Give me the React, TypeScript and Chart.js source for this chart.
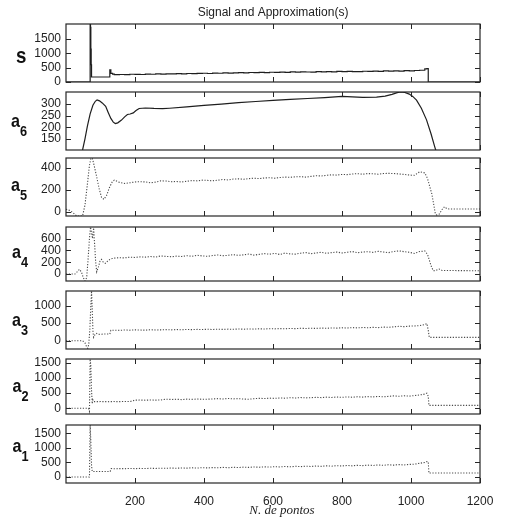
import React, { useEffect, useRef } from 'react';
import { Chart, registerables } from 'chart.js';

Chart.register(...registerables);

const TITLE = 'Signal and Approximation(s)';
const X_LABEL = 'N. de pontos';
const X_TICKS = [200, 400, 600, 800, 1000, 1200];

// shared x positions of the long plateau
const MID_X = [
  140, 155, 170, 185, 200, 215, 230, 245, 260, 275,
  290, 305, 320, 335, 350, 365, 380, 395, 410, 425,
  440, 455, 470, 485, 500, 515, 530, 545, 560, 575,
  590, 605, 620, 635, 650, 665, 680, 695, 710, 725,
  740, 755, 770, 785, 800, 815, 830, 845, 860, 875,
  890, 905, 920, 935, 950, 965, 980, 995, 1010, 1025,
  1040,
];

// ---- s (signal) ----
const S_HEAD: number[][] = [[0, 0], [69, 0], [70, 2020], [71, 1900], [72, 1150], [73, 600], [74, 175], [126, 175], [127, 420], [130, 300], [135, 275]];
const S_MID = [
  255, 262, 258, 270, 266, 262, 275, 270, 280, 274,
  285, 280, 292, 286, 296, 290, 300, 305, 296, 310,
  304, 315, 308, 320, 326, 318, 330, 324, 335, 328,
  340, 334, 345, 338, 350, 342, 355, 348, 345, 358,
  352, 362, 355, 368, 360, 372, 364, 358, 375, 368,
  380, 372, 385, 376, 390, 382, 395, 388, 400, 410,
  455,
];
const S_TAIL: number[][] = [[1046, 470], [1049, 470], [1050, 0], [1200, 0]];

// ---- a6 ----
const A6_HEAD: number[][] = [
  [40, 60], [48, 102], [55, 150], [62, 205], [70, 258], [78, 295], [85, 312], [90, 318], [97, 314], [105, 305],
  [115, 290], [122, 265], [130, 238], [137, 222], [143, 216], [150, 219], [160, 230], [170, 245], [178, 255], [186, 257],
  [195, 262], [203, 272], [212, 281], [230, 283], [255, 281], [280, 280], [300, 282], [350, 288], [400, 294], [450, 300],
  [500, 306], [550, 311], [600, 316], [650, 320], [700, 324], [750, 328], [790, 332], [800, 333], [830, 331], [860, 329],
  [900, 330], [925, 334], [945, 342], [960, 349], [970, 352], [982, 350], [995, 343], [1005, 333], [1016, 317], [1030, 282],
  [1045, 232], [1058, 172], [1068, 120], [1075, 85],
];
const A6_MID: number[] = [];
const A6_TAIL: number[][] = [];

// ---- a5 ----
const A5_HEAD: number[][] = [[0, 22], [10, 12], [20, -8], [31, -39], [48, -39], [55, 60], [62, 250], [68, 420], [72, 480], [76, 487], [80, 440], [88, 330], [96, 210], [103, 130], [110, 112], [118, 150], [126, 220], [134, 270]];
const A5_MID = [
  286, 266, 256, 262, 270, 272, 270, 262, 268, 280,
  278, 272, 274, 270, 276, 282, 280, 286, 284, 280,
  286, 292, 288, 296, 298, 294, 300, 304, 300, 306,
  308, 304, 310, 314, 312, 316, 318, 314, 320, 326,
  324, 330, 334, 332, 338, 336, 342, 345, 340, 346,
  344, 340, 346, 348, 346, 342, 338, 332, 330, 362,
  352,
];
const A5_TAIL: number[][] = [[1048, 300], [1055, 220], [1060, 166], [1065, 80], [1070, -10], [1074, -30], [1082, -22], [1090, 20], [1097, 45], [1103, 30], [1110, 24], [1200, 24]];

// ---- a4 ----
const A4_HEAD: number[][] = [[0, 0], [26, 0], [33, 40], [39, 80], [45, 30], [50, -60], [55, -118], [60, -60], [64, 250], [68, 600], [71, 795], [74, 700], [77, 600], [80, 780], [83, 500], [86, 200], [89, 39], [94, 120], [99, 230], [103, 247], [108, 200], [114, 180], [120, 215], [127, 245], [134, 262]];
const A4_MID = [
  268, 276, 272, 285, 280, 290, 286, 296, 288, 305,
  298, 292, 302, 296, 310, 300, 318, 306, 300, 312,
  322, 310, 316, 328, 315, 325, 338, 320, 332, 344,
  335, 348, 330, 355, 340, 336, 352, 362, 345, 356,
  368, 350, 362, 372, 356, 368, 380, 360, 372, 378,
  366, 384, 372, 362, 380, 392, 378, 368, 348, 380,
  390,
];
const A4_TAIL: number[][] = [[1048, 330], [1055, 200], [1060, 110], [1065, 55], [1072, 60], [1082, 84], [1090, 60], [1200, 55]];

// ---- a3 ----
const A3_HEAD: number[][] = [[0, 0], [48, 0], [55, -60], [60, -180], [63, -215], [66, -100], [69, 300], [72, 1000], [74, 1412], [76, 900], [78, 300], [80, 100], [83, 160], [88, 210], [93, 180], [100, 185], [110, 190], [120, 190], [127, 190], [130, 300]];
const A3_MID = [
  300, 295, 305, 300, 310, 304, 300, 312, 306, 310,
  315, 308, 318, 312, 320, 316, 322, 318, 326, 320,
  328, 322, 330, 326, 334, 328, 336, 330, 340, 334,
  342, 338, 346, 340, 350, 344, 354, 348, 356, 350,
  360, 354, 364, 358, 368, 362, 372, 366, 376, 370,
  380, 374, 388, 380, 395, 410, 400, 415, 420, 430,
  460,
];
const A3_TAIL: number[][] = [[1046, 490], [1050, 300], [1053, 96], [1200, 96]];

// ---- a2 ----
const A2_HEAD: number[][] = [[0, 0], [65, 0], [68, -100], [70, 1633], [72, 1400], [74, 600], [76, 150], [78, 277], [80, 220], [100, 222], [125, 218], [135, 222]];
const A2_MID = [
  222, 220, 224, 222, 270, 272, 268, 274, 270, 276,
  300, 292, 298, 288, 302, 296, 306, 298, 300, 310,
  318, 308, 324, 312, 320, 304, 300, 318, 330, 322,
  336, 328, 342, 334, 350, 340, 356, 344, 352, 362,
  354, 368, 358, 372, 362, 378, 366, 382, 370, 386,
  376, 392, 380, 396, 410, 398, 414, 402, 420, 440,
  470,
];
const A2_TAIL: number[][] = [[1046, 500], [1050, 400], [1052, 95], [1200, 95]];

// ---- a1 ----
const A1_HEAD: number[][] = [[0, 0], [68, 0], [70, 1782], [72, 1200], [74, 400], [76, 190], [128, 190], [131, 290], [135, 285]];
const A1_MID = [
  282, 290, 286, 294, 288, 296, 290, 300, 294, 304,
  298, 308, 300, 312, 304, 316, 308, 320, 312, 324,
  316, 330, 320, 334, 326, 340, 330, 344, 336, 350,
  340, 356, 346, 362, 350, 368, 356, 372, 362, 378,
  366, 384, 372, 390, 378, 396, 384, 402, 390, 408,
  396, 414, 402, 420, 408, 426, 414, 432, 440, 470,
  500,
];
const A1_TAIL: number[][] = [[1046, 530], [1050, 520], [1052, 136], [1200, 136]];

const NAMES = ['s', 'a', 'a', 'a', 'a', 'a', 'a'];
const SUBS = ['', '6', '5', '4', '3', '2', '1'];
const Y_MIN = [0, 102, -39, -118, -234, -190, -204];
const Y_MAX = [2020, 352, 487, 795, 1412, 1633, 1782];
const Y_TICKS = [
  [0, 500, 1000, 1500],
  [150, 200, 250, 300],
  [0, 200, 400],
  [0, 200, 400, 600],
  [0, 500, 1000],
  [0, 500, 1000, 1500],
  [0, 500, 1000, 1500],
];
const SERIES = [
  [S_HEAD, S_MID, S_TAIL],
  [A6_HEAD, A6_MID, A6_TAIL],
  [A5_HEAD, A5_MID, A5_TAIL],
  [A4_HEAD, A4_MID, A4_TAIL],
  [A3_HEAD, A3_MID, A3_TAIL],
  [A2_HEAD, A2_MID, A2_TAIL],
  [A1_HEAD, A1_MID, A1_TAIL],
];

// layout (page pixels)
const W = 505;
const H = 517;
const PLOT_LEFT = 66;
const PLOT_RIGHT = 480;
const BOXES = [[24, 82], [92, 150], [158, 216], [227, 281], [291, 349], [359, 414], [425, 483]];
const LABEL_POS = [[16, 63], [11, 127], [11, 191], [12, 258], [12, 326], [12.5, 392], [12.5, 452]];

const FONT = "'Liberation Sans', Arial, Helvetica, sans-serif";
const INK = '#222';

function buildData(i: number) {
  const [head, mid, tail] = SERIES[i] as [number[][], number[], number[][]];
  const pts = [
    ...head.map(([x, y]) => ({ x, y })),
    ...mid.map((y, k) => ({ x: MID_X[k], y })),
    ...tail.map(([x, y]) => ({ x, y })),
  ];
  return pts;
}

function makeFramePlugin(i: number) {
  return {
    id: 'frame' + i,
    afterDatasetsDraw(chart: any) {
      const { ctx, chartArea: a, scales } = chart;
      ctx.save();
      ctx.strokeStyle = '#262626';
      ctx.lineWidth = 1.2;
      ctx.strokeRect(a.left, a.top, a.right - a.left, a.bottom - a.top);
      ctx.lineWidth = 1;
      ctx.beginPath();
      X_TICKS.forEach((v) => {
        const px = Math.round(scales.x.getPixelForValue(v)) + 0.5;
        ctx.moveTo(px, a.top);
        ctx.lineTo(px, a.top + 5);
        ctx.moveTo(px, a.bottom);
        ctx.lineTo(px, a.bottom - 5);
      });
      Y_TICKS[i].forEach((v) => {
        const py = Math.round(scales.y.getPixelForValue(v)) + 0.5;
        ctx.moveTo(a.left, py);
        ctx.lineTo(a.left + 5, py);
        ctx.moveTo(a.right, py);
        ctx.lineTo(a.right - 5, py);
      });
      ctx.stroke();

      // row label
      const [lx, ly] = LABEL_POS[i];
      ctx.fillStyle = '#111';
      ctx.textAlign = 'left';
      ctx.textBaseline = 'alphabetic';
      ctx.save();
      ctx.translate(lx, ly);
      ctx.scale(0.85, 1);
      ctx.font = (i === 0 ? 'bold 22px ' : 'bold 19px ') + FONT;
      ctx.fillText(NAMES[i], 0, 0);
      ctx.restore();
      if (SUBS[i]) {
        ctx.save();
        ctx.translate(lx + 9, ly + 9);
        ctx.scale(0.85, 1);
        ctx.font = 'bold 15px ' + FONT;
        ctx.fillText(SUBS[i], 0, 0);
        ctx.restore();
      }

      if (i === BOXES.length - 1) {
        ctx.fillStyle = INK;
        ctx.textAlign = 'center';
        ctx.textBaseline = 'middle';
        ctx.font = "italic 13px 'Liberation Serif', 'Times New Roman', serif";
        ctx.fillText(X_LABEL, 282, 511);
      }
      ctx.restore();
    },
  };
}

function Panel({ index }: { index: number }) {
  const ref = useRef<HTMLCanvasElement | null>(null);
  useEffect(() => {
    const canvas = ref.current;
    if (!canvas) return;
    const isFirst = index === 0;
    const isLast = index === BOXES.length - 1;
    const [top, bottom] = BOXES[index];
    const solid = index <= 1;
    const chart = new Chart(canvas, {
      type: 'line',
      data: {
        datasets: [
          {
            data: buildData(index),
            borderColor: solid ? '#1e1e1e' : '#4a4a4a',
            borderWidth: solid ? 1.2 : 1.1,
            borderDash: solid ? [] : [1.2, 1.6],
            pointRadius: 0,
            fill: false,
            tension: 0,
            stepped: index === 0 ? 'before' : false,
          } as any,
        ],
      },
      options: {
        animation: false,
        responsive: false,
        events: [],
        parsing: false as any,
        layout: {
          padding: {
            left: 0,
            right: W - PLOT_RIGHT,
            top: isFirst ? 0 : top,
            bottom: isLast ? 0 : H - bottom,
          },
        },
        plugins: {
          legend: { display: false },
          tooltip: { enabled: false },
          title: isFirst
            ? {
                display: true,
                text: TITLE,
                fullSize: false,
                color: INK,
                font: { family: FONT, size: 12, weight: 'normal' as any },
                padding: { top: 5, bottom: 24 - 5 - 14.4 },
              }
            : { display: false },
        },
        scales: {
          x: {
            type: 'linear',
            min: 0,
            max: 1200,
            display: isLast,
            afterFit: (s: any) => {
              if (isLast) s.height = H - bottom;
              else s.height = 0;
            },
            afterBuildTicks: (s: any) => {
              s.ticks = X_TICKS.map((v) => ({ value: v }));
            },
            grid: { display: false, drawTicks: false },
            border: { display: false },
            ticks: {
              padding: 11,
              maxRotation: 0,
              autoSkip: false,
              color: INK,
              font: { family: FONT, size: 12 },
              callback: (v: any) => String(v),
            },
          },
          y: {
            type: 'linear',
            min: Y_MIN[index],
            max: Y_MAX[index],
            afterFit: (s: any) => {
              s.width = PLOT_LEFT;
            },
            afterBuildTicks: (s: any) => {
              s.ticks = Y_TICKS[index].map((v) => ({ value: v }));
            },
            grid: { display: false, drawTicks: false },
            border: { display: false },
            ticks: {
              padding: 5,
              autoSkip: false,
              color: INK,
              font: { family: FONT, size: 12 },
              callback: (v: any) => String(v),
            },
          },
        },
      },
      plugins: [makeFramePlugin(index)],
    });
    return () => chart.destroy();
  }, [index]);
  return (
    <canvas
      ref={ref}
      width={W}
      height={H}
      style={{ position: 'absolute', left: 0, top: 0, width: W, height: H }}
    />
  );
}

export default function App() {
  return (
    <div style={{ position: 'absolute', left: 0, top: 0, width: W, height: H, background: '#fff' }}>
      {BOXES.map((_, i) => (
        <Panel key={i} index={i} />
      ))}
    </div>
  );
}
